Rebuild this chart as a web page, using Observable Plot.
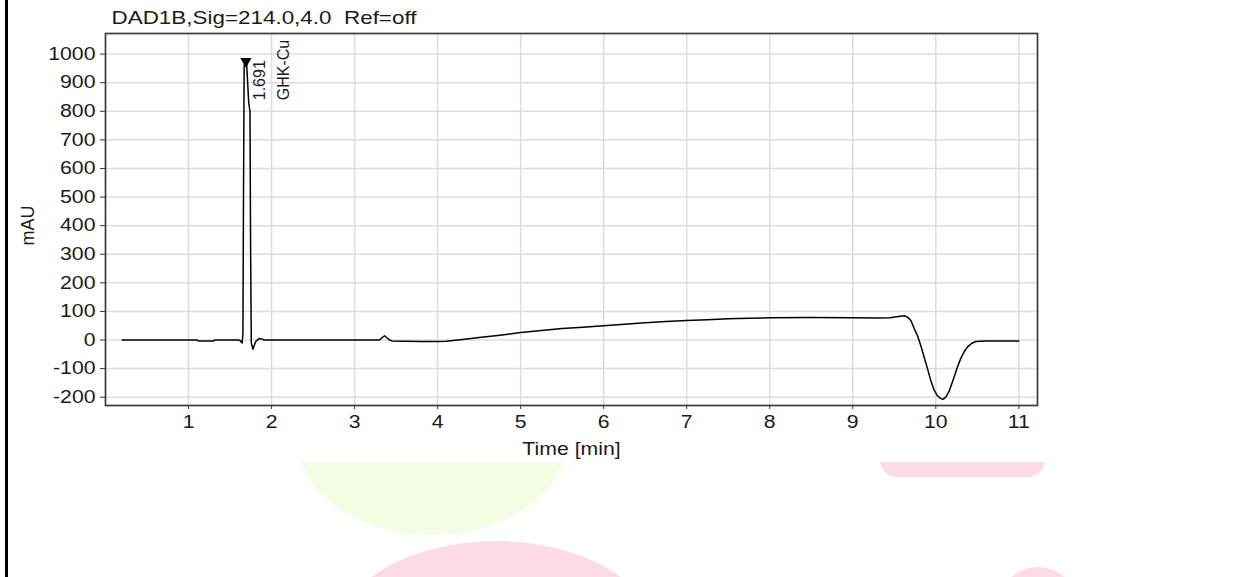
<!DOCTYPE html>
<html>
<head>
<meta charset="utf-8">
<script src="https://cdn.jsdelivr.net/npm/d3@7"></script>
<script src="https://cdn.jsdelivr.net/npm/@observablehq/plot@0.6"></script>
<style>
html, body { margin: 0; padding: 0; background: #fff; width: 1249px; height: 577px; overflow: hidden; }
#wrap { position: relative; width: 1249px; height: 577px; overflow: hidden; }
#chart { position: absolute; left: 0; top: 0; z-index: 2; }
#chart svg text { white-space: pre; }
.blob { position: absolute; z-index: 1; }
#edge { position: absolute; left: 5px; top: 0; width: 3px; height: 577px; background: #000; z-index: 3; }
</style>
</head>
<body>
<div id="wrap">
  <div class="blob" style="left:297px; top:345px; width:270px; height:190px; border-radius:50%; background:#f2fde4;"></div>
  <div class="blob" style="left:880px; top:440px; width:165px; height:37px; border-radius:0 0 17px 17px; background:#fcdbe7;"></div>
  <div class="blob" style="left:331px; top:541px; width:330px; height:208px; border-radius:50%; background:#fcdbe7;"></div>
  <div class="blob" style="left:998px; top:567px; width:80px; height:80px; border-radius:50%; background:#fcdbe7;"></div>
  <div id="chart"></div>
  <div id="edge"></div>
</div>
<script>
// ---- data ----
const titleText = "DAD1B,Sig=214.0,4.0  Ref=off";
const xLabel = "Time [min]";
const yLabel = "mAU";
const xTicks = [1, 2, 3, 4, 5, 6, 7, 8, 9, 10, 11];
const yTicks = [-200, -100, 0, 100, 200, 300, 400, 500, 600, 700, 800, 900, 1000];

const time = [
  0.20, 1.10, 1.12, 1.30, 1.32, 1.60, 1.62, 1.645, 1.655, 1.662, 1.670, 1.700, 1.725,
  1.740, 1.748, 1.756, 1.775, 1.79, 1.81, 1.85, 1.88, 1.91,
  3.30, 3.33, 3.36, 3.39, 3.42, 3.45, 3.60, 3.80, 4.00, 4.10, 4.30, 4.50, 4.75,
  5.00, 5.25, 5.50, 5.75, 6.00, 6.25, 6.50, 6.75, 7.00, 7.25, 7.50, 7.75, 8.00,
  8.50, 9.00, 9.30, 9.45, 9.55, 9.62, 9.66, 9.70, 9.74, 9.78, 9.82, 9.86, 9.90,
  9.94, 9.98, 10.02, 10.06, 10.09, 10.12, 10.16, 10.22, 10.26, 10.30, 10.34,
  10.38, 10.43, 10.48, 10.60, 11.00
];
const signal = [
  0, 0, -3, -3, 0, 0, -2, -10, 20, 500, 962, 965, 830,
  800, 300, -10, -32, -20, -5, 5, 4, 0,
  0, 8, 15, 8, 0, -3, -4, -5, -5, -4, 2, 9, 17,
  26, 33, 40, 45, 50, 55, 60, 65, 68, 71, 74, 76, 78,
  79, 78, 77, 78, 82, 85, 80, 68, 40, 15, -20, -60, -100,
  -142, -175, -195, -205, -207, -200, -180, -130, -95, -65, -42,
  -25, -12, -5, -3, -3
];

const peakTime = [1.691];
const peakApex = [975];
const peakRT = ["1.691"];
const peakName = ["GHK-Cu"];

// ---- build tables ----
const trace = time.map((t, i) => ({t, v: signal[i]}));
const peaks = peakTime.map((t, i) => ({t, apex: peakApex[i], rt: peakRT[i], name: peakName[i]}));

const triDown = {
  draw(ctx, size) {
    const s = Math.sqrt(size / (Math.sqrt(3) / 4));
    const h = s * Math.sqrt(3) / 2;
    ctx.moveTo(-s / 2, -h / 3);
    ctx.lineTo(s / 2, -h / 3);
    ctx.lineTo(0, 2 * h / 3);
    ctx.closePath();
  }
};

const grid = {stroke: "#dcdcdc", strokeOpacity: 1, strokeWidth: 1.5};
const plain = d => String(d);

const chart = Plot.plot({
  width: 1249,
  height: 462,
  marginLeft: 105,
  marginRight: 212,
  marginTop: 33,
  marginBottom: 57,
  x: {domain: [0, 11.225]},
  y: {domain: [-229, 1072]},
  style: {fontFamily: "'Liberation Sans', Arial, sans-serif", fontSize: "18px", color: "#1a1a1a", background: "#fff"},
  marks: [
    Plot.gridX(xTicks, grid),
    Plot.gridY(yTicks, grid),
    Plot.axisY(yTicks, {tickSize: 5, tickPadding: 5, label: null, fontSize: 18, stroke: "#333", tickFormat: plain}),
    Plot.axisX(xTicks, {tickSize: 4, tickPadding: 6, label: null, fontSize: 18, stroke: "#333", tickFormat: plain}),
    Plot.frame({stroke: "#3a3a3a", strokeWidth: 1.7}),
    Plot.line(trace, {x: "t", y: "v", stroke: "#000", strokeWidth: 1.5}),
    Plot.dot(peaks, {x: "t", y: "apex", symbol: triDown, r: 4.2, fill: "#000", stroke: "none"}),
    Plot.text(peaks, {x: "t", y: "apex", text: "rt", rotate: -90, textAnchor: "start", lineAnchor: "middle", dx: 14, dy: 39, fontSize: 16, fill: "#1a1a1a"}),
    Plot.text(peaks, {x: "t", y: "apex", text: "name", rotate: -90, textAnchor: "start", lineAnchor: "middle", dx: 38, dy: 39, fontSize: 16, fill: "#1a1a1a"}),
    Plot.text([titleText], {frameAnchor: "top-left", textAnchor: "start", lineAnchor: "bottom", dx: 6, dy: -10, fontSize: 19, fill: "#1a1a1a"}),
    Plot.text([xLabel], {frameAnchor: "bottom", lineAnchor: "middle", dy: 44, fontSize: 18, fill: "#1a1a1a"}),
    Plot.text([yLabel], {frameAnchor: "left", rotate: -90, lineAnchor: "middle", dx: -77, dy: 26, fontSize: 18, fill: "#1a1a1a"})
  ]
});

document.getElementById("chart").appendChild(chart);

// the reference screenshot is horizontally stretched; widen horizontal text to match
for (const t of chart.querySelectorAll("text")) {
  const tr = t.getAttribute("transform") || "";
  const ptr = (t.parentNode && t.parentNode.getAttribute && t.parentNode.getAttribute("transform")) || "";
  if (tr.includes("rotate") || ptr.includes("rotate")) continue;
  try {
    const len = t.getComputedTextLength();
    if (len > 0) {
      t.setAttribute("textLength", (len * 1.18).toFixed(1));
      t.setAttribute("lengthAdjust", "spacingAndGlyphs");
    }
  } catch (e) {}
}
</script>
</body>
</html>
